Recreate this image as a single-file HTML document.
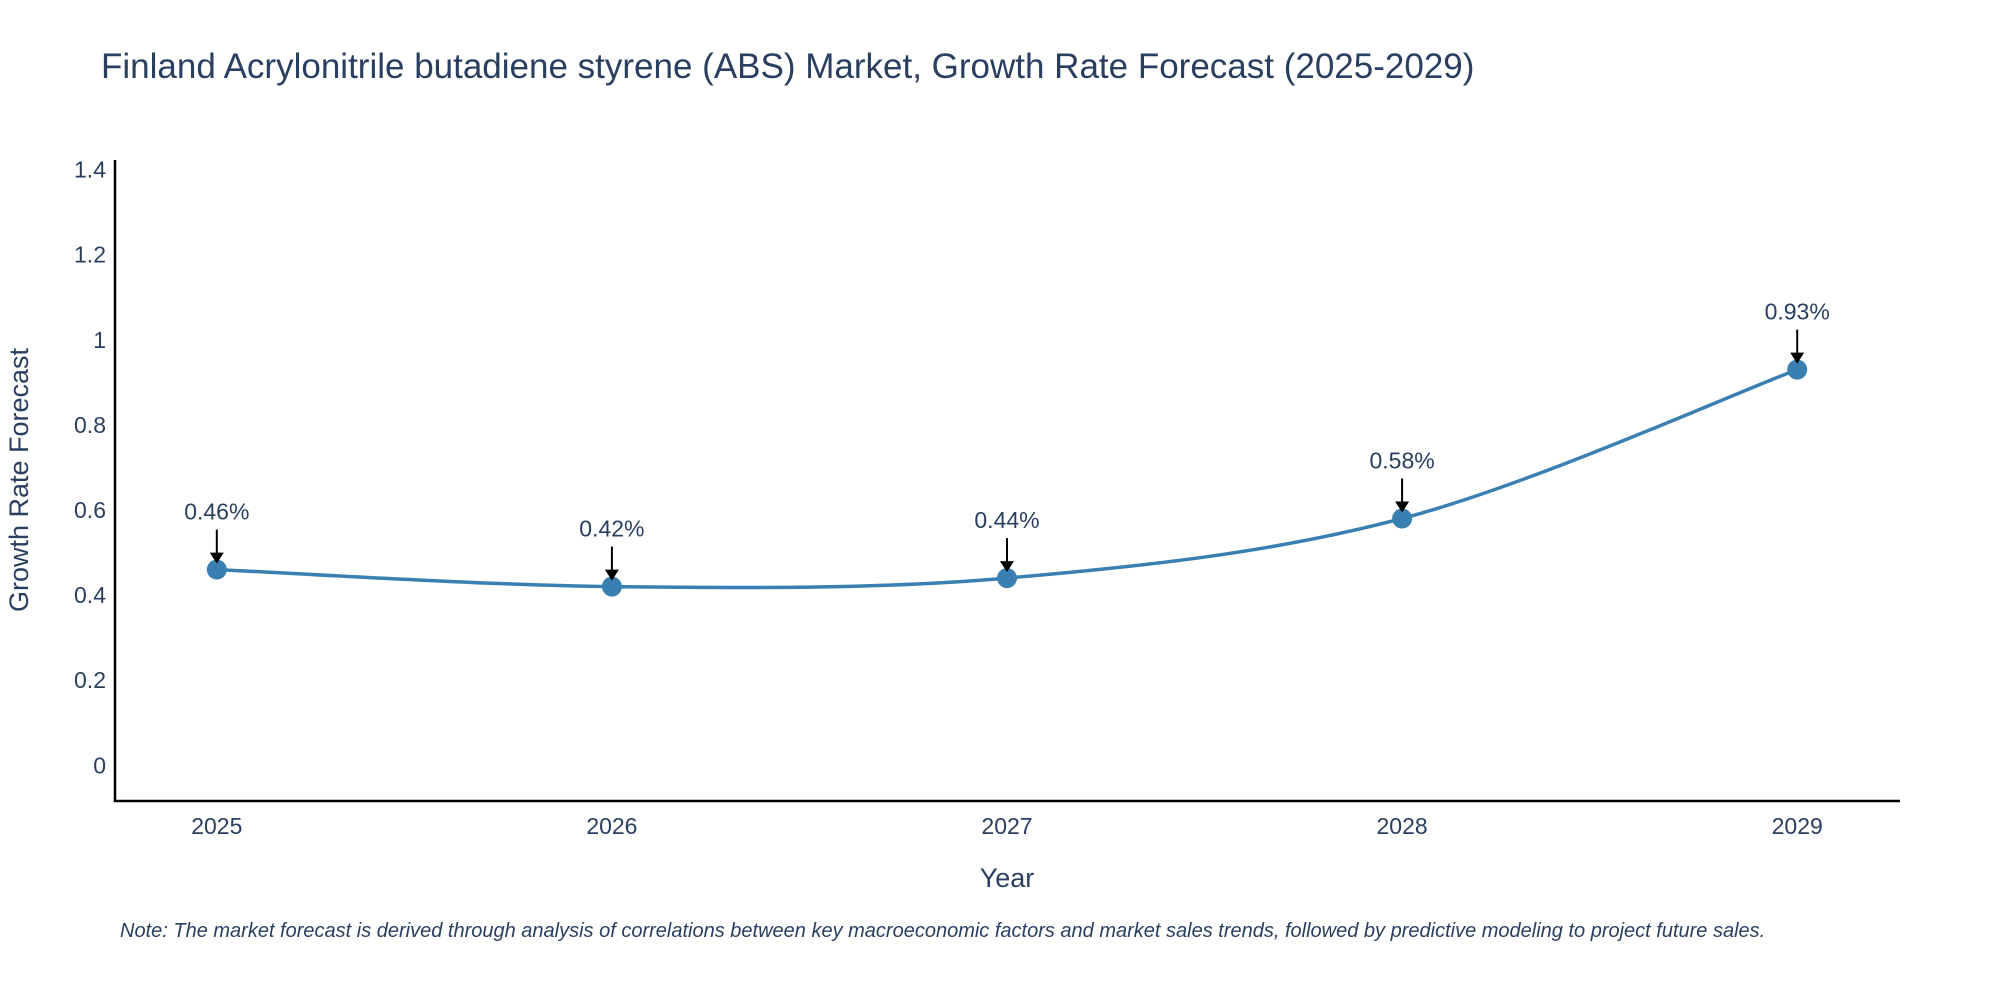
<!DOCTYPE html>
<html><head><meta charset="utf-8"><style>
html,body{margin:0;padding:0;background:#fff;width:2000px;height:1000px;overflow:hidden}
svg{font-family:"Liberation Sans",sans-serif}
</style></head><body>
<svg id="chart" width="2000" height="1000">
<text x="101" y="78" font-size="35" fill="#2a3f5f">Finland Acrylonitrile butadiene styrene (ABS) Market, Growth Rate Forecast (2025-2029)</text>
<g id="yticks"></g>
<g id="xticks"></g>
<line x1="115" y1="160" x2="115" y2="802" stroke="#000" stroke-width="2.5"/>
<line x1="114" y1="801" x2="1900" y2="801" stroke="#000" stroke-width="2.5"/>
<path id="line" fill="none" stroke="#3a7fb1" stroke-width="3.5"/>
<g id="points"></g>
<text x="28" y="480" font-size="27" fill="#2a3f5f" text-anchor="middle" transform="rotate(-90 28 480)">Growth Rate Forecast</text>
<text x="1007" y="887" font-size="27" fill="#2a3f5f" text-anchor="middle">Year</text>
<text x="120" y="937" font-size="20" font-style="italic" fill="#2a3f5f">Note: The market forecast is derived through analysis of correlations between key macroeconomic factors and market sales trends, followed by predictive modeling to project future sales.</text>
</svg>
<script>
const years = ["2025","2026","2027","2028","2029"];
const growth = [0.46, 0.42, 0.44, 0.58, 0.93];
const labels = ["0.46%","0.42%","0.44%","0.58%","0.93%"];
const yTicks = [0, 0.2, 0.4, 0.6, 0.8, 1, 1.2, 1.4];
const yTickLabels = ["0","0.2","0.4","0.6","0.8","1","1.2","1.4"];

const NS = "http://www.w3.org/2000/svg";
function xs(i){ return 216.8 + i * 395.1; }
function ys(v){ return 765.3 - v * 425.5; }
function mk(tag, attrs, parent){ const e = document.createElementNS(NS, tag); for (const k in attrs) e.setAttribute(k, attrs[k]); parent.appendChild(e); return e; }

const yg = document.getElementById('yticks');
yTicks.forEach((v, i) => {
  const t = mk('text', {x: 106, y: ys(v) + 8, 'font-size': 23, fill: '#2a3f5f', 'text-anchor': 'end'}, yg);
  
  
  t.textContent = yTickLabels[i];
});
const xg = document.getElementById('xticks');
years.forEach((y, i) => {
  const t = mk('text', {x: xs(i), y: 834, 'font-size': 23, fill: '#2a3f5f', 'text-anchor': 'middle'}, xg);
  
  
  t.textContent = y;
});

const P = growth.map((v, i) => [xs(i), ys(v)]);
let d = `M${P[0][0]},${P[0][1]}`;
const s = 0.5 / 3 * 2;
for (let i = 0; i < P.length - 1; i++) {
  const p0 = P[i-1] || P[i], p1 = P[i], p2 = P[i+1], p3 = P[i+2] || P[i+1];
  const c1 = [p1[0] + (p2[0]-p0[0]) * s / 2, p1[1] + (p2[1]-p0[1]) * s / 2];
  const c2 = [p2[0] - (p3[0]-p1[0]) * s / 2, p2[1] - (p3[1]-p1[1]) * s / 2];
  d += ` C${c1[0]},${c1[1]} ${c2[0]},${c2[1]} ${p2[0]},${p2[1]}`;
}
document.getElementById('line').setAttribute('d', d);

const pg = document.getElementById('points');
growth.forEach((v, i) => {
  const cx = xs(i), cy = ys(v);
  const c = mk('circle', {cx, cy, r: 10, fill: '#3a7fb1'}, pg);
  
  
  const l = mk('line', {x1: cx, y1: cy - 40, x2: cx, y2: cy - 14, stroke: '#000', 'stroke-width': 2}, pg);
  
  
  const a = mk('path', {d: `M${cx-7},${cy-17} L${cx+7},${cy-17} L${cx},${cy-6} Z`, fill: '#000'}, pg);
  
  
  const t = mk('text', {x: cx, y: cy - 50, 'font-size': 23, fill: '#2a3f5f', 'text-anchor': 'middle'}, pg);
  
  
  t.textContent = labels[i];
});
</script>
</body></html>
